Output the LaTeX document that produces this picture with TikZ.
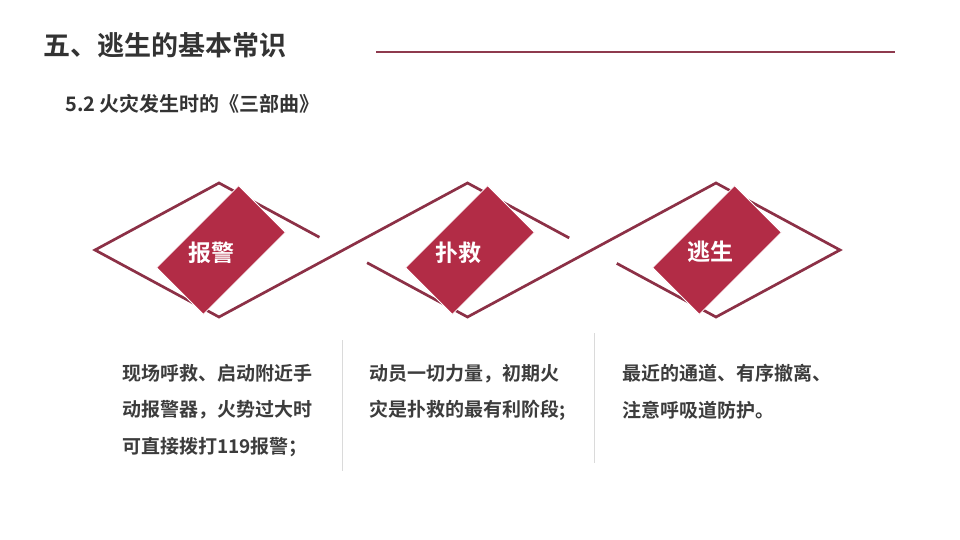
\documentclass[tikz,border=0pt]{standalone}
\usepackage{fontspec}
\newfontfamily\cjk{Noto Sans CJK SC}[BoldFont={Noto Sans CJK SC Bold}]
\usetikzlibrary{calc}
\definecolor{zigcol}{RGB}{140,48,70}
\definecolor{fillred}{RGB}{178,44,70}
\definecolor{titlecol}{RGB}{51,51,51}
\definecolor{bodycol}{RGB}{60,60,60}
\definecolor{tlinecol}{RGB}{142,58,78}
\definecolor{sepcol}{RGB}{218,218,218}
\tikzset{
  zig/.style={draw=zigcol,line width=2.7pt,line join=miter},
  redbox/.style={fill=fillred,draw=white,line width=0.8pt,rotate=45,minimum width=116pt,minimum height=66pt,inner sep=0pt},
  lbl/.style={text=white,font=\cjk\bfseries\fontsize{23}{26}\selectfont,inner sep=0pt},
  titletext/.style={anchor=west,inner sep=0pt,text=titlecol,font=\cjk\bfseries\fontsize{27}{30}\selectfont},
  subtext/.style={anchor=west,inner sep=0pt,text=titlecol,font=\cjk\bfseries\fontsize{20}{24}\selectfont},
  bodytext/.style={anchor=north west,inner sep=0pt,align=left,text=bodycol,font=\cjk\bfseries\fontsize{19}{36.5}\selectfont},
  tline/.style={draw=tlinecol,line width=2pt},
  sepline/.style={draw=sepcol,line width=1pt}
}
\begin{document}
\begin{tikzpicture}[x=1pt,y=-1pt]
\useasboundingbox[fill=white] (0,0) rectangle (960,540);
% title
\node[titletext] (title) at (43,45) {五、逃生的基本常识};
\draw[tline] (376,52) coordinate (ta) -- (895,52) coordinate (tb);
\node[subtext] (sub) at (65,104) {5.2 火灾发生时的《三部曲》};
% diamond points
\foreach \i/\x in {1/219,2/467.5,3/716}{
  \coordinate (T\i) at (\x,183);
  \coordinate (B\i) at (\x,317);
  \coordinate (L\i) at (\x-124,250);
  \coordinate (R\i) at (\x+124,250);
}
\draw[zig] ($(T1)!0.81!(R1)$) -- (T1) -- (L1) -- (B1) -- (T2) -- ($(T2)!0.82!(R2)$);
\draw[zig] ($(L2)!0.19!(B2)$) -- (B2) -- (T3) -- (R3) -- (B3) -- ($(B3)!0.8!(L3)$);
% red boxes
\node[redbox] (r1) at (221,250) {};
\node[redbox] (r2) at (470,250) {};
\node[redbox] (r3) at (717,250) {};
\node[lbl] (l1) at (211,253) {报警};
\node[lbl] (l2) at (458,253) {扑救};
\node[lbl] (l3) at (710,252) {逃生};
% separators
\draw[sepline] (342,340) coordinate (s1a) -- (342,471) coordinate (s1b);
\draw[sepline] (594,333) coordinate (s2a) -- (594,463) coordinate (s2b);
% body texts
\node[bodytext] (c1) at (122,364) {现场呼救、启动附近手\\动报警器，火势过大时\\可直接拨打119报警；};
\node[bodytext] (c2) at (369,364) {动员一切力量，初期火\\灾是扑救的最有利阶段;};
\node[bodytext] (c3) at (622,364) {最近的通道、有序撤离、\\注意呼吸道防护。};
\end{tikzpicture}
\end{document}
